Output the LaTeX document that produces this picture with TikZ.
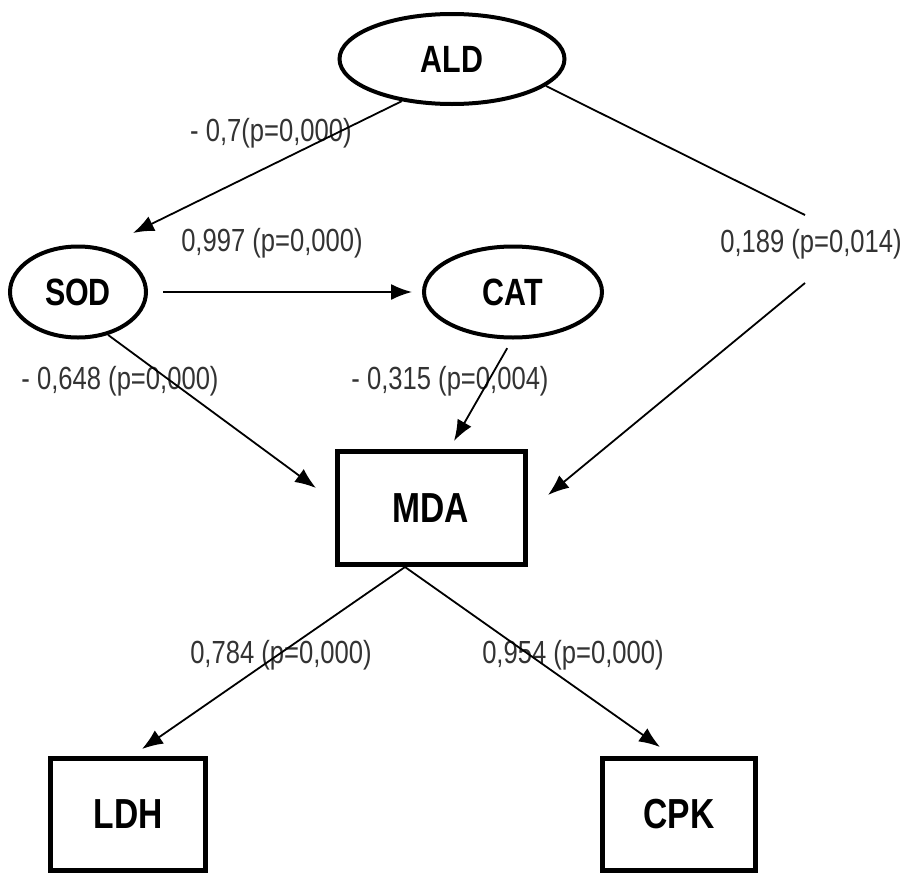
\documentclass[tikz,border=0pt]{standalone}
\usepackage{fontspec}
\setmainfont{Liberation Sans}[FakeStretch=0.8]
\usetikzlibrary{shapes.geometric,arrows.meta,calc}
\begin{document}
\begin{tikzpicture}[x=1pt,y=-1pt,
  ell/.style={ellipse,draw,line width=4pt,inner sep=0pt,font=\bfseries\fontsize{38}{38}\selectfont},
  box/.style={rectangle,draw,line width=5pt,inner sep=0pt,font=\bfseries\fontsize{42}{42}\selectfont},
  lab/.style={font=\fontsize{32}{32}\selectfont,text=black!80,inner sep=0pt},
  arr/.style={line width=1.8pt,-{Latex[length=21pt,width=16pt]}},
  ln/.style={line width=1.8pt}]
\useasboundingbox (0,0) rectangle (906,873);
\fill[white] (0,0) rectangle (906,873);
% nodes
\node[ell,minimum width=225pt,minimum height=90pt] (ALD) at (452,59) {ALD};
\node[ell,minimum width=136pt,minimum height=91pt] (SOD) at (78,292) {SOD};
\node[ell,minimum width=178pt,minimum height=91pt] (CAT) at (513,292) {CAT};
\node[box,minimum width=188pt,minimum height=113pt] (MDA) at (431,508) {MDA\hspace{20pt}};
\node[box,minimum width=155pt,minimum height=111.5pt] (LDH) at (128,814.5) {LDH};
\node[box,minimum width=153pt,minimum height=111.5pt] (CPK) at (679,814.5) {CPK\hspace{12pt}};
% labels
\node[lab] (l07) at (271,133) {- 0,7(p=0,000)};
\node[lab] (l997) at (272,243) {0,997 (p=0,000)};
\node[lab] (l189) at (811,244) {0,189 (p=0,014)};
\node[lab] (l648) at (120,381) {- 0,648 (p=0,000)};
\node[lab] (l315) at (450,381) {- 0,315 (p=0,004)};
\node[lab] (l784) at (281,655) {0,784 (p=0,000)};
\node[lab] (l954) at (573,655) {0,954 (p=0,000)};
% free ends
\coordinate (tSOD) at (133,233);
\coordinate (tCAT) at (412,292);
\coordinate (c1) at (805,215);
\coordinate (c2) at (805,283);
\coordinate (tMDAr) at (548,495);
\coordinate (tMDAl) at (316,488);
\coordinate (tMDAt) at (454,441);
\coordinate (tLDH) at (142,749);
\coordinate (tCPK) at (660,747);
\coordinate (mdaout) at ($(MDA.south)+(-26,0)$);
% connectors
\draw[arr] (ALD.220) -- (tSOD);
\draw[arr,shorten <=15pt] (SOD.east) -- (tCAT);
\draw[ln] (ALD.-16) -- (c1);
\draw[arr] (c2) -- (tMDAr);
\draw[arr] (SOD.-55) -- (tMDAl);
\draw[arr,shorten <=10pt] (CAT.-91) -- (tMDAt);
\draw[arr] (mdaout) -- (tLDH);
\draw[arr] (mdaout) -- (tCPK);
\end{tikzpicture}
\end{document}
